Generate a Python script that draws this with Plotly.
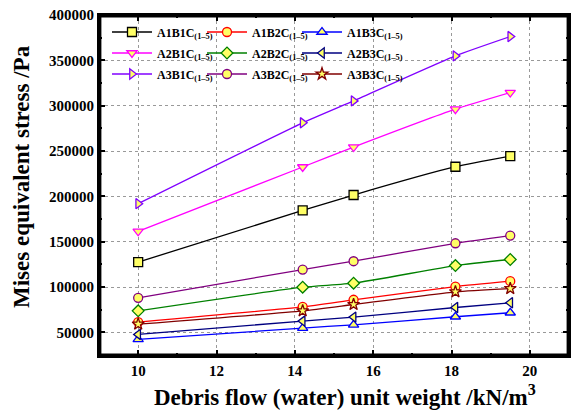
import plotly.graph_objects as go

x_weight = [10, 14.2, 15.5, 18.1, 19.5]

a1b1c = [127500, 184500, 201500, 232700, 244500]
a1b2c = [61400, 78200, 86000, 100600, 106500]
a1b3c = [42300, 54800, 58400, 67300, 71700]
a2b1c = [161500, 232400, 254400, 296200, 314500]
a2b2c = [73800, 99900, 104300, 123700, 130400]
a2b3c = [47800, 62500, 66900, 77500, 82700]
a3b1c = [192000, 281100, 305300, 354900, 376200]
a3b2c = [88200, 119300, 128500, 148300, 156800]
a3b3c = [59100, 73800, 80800, 94800, 98400]

x_range = [9, 21]
y_range = [24000, 400000]

x_title = "Debris flow (water) unit weight /kN/m<sup>3</sup>"
y_title = "Mises equivalent stress /Pa"

def lab(a, b):
    return f'A{a}B{b}C<sub>(1–5)</sub>'

# (label, values, colour, symbol, legend row, legend column)
series = [
    (lab(1, 1), a1b1c, "#000000", "square", 0, 0),
    (lab(1, 2), a1b2c, "#ff0000", "circle", 0, 1),
    (lab(1, 3), a1b3c, "#0000ff", "triangle-up", 0, 2),
    (lab(2, 1), a2b1c, "#ff00ff", "triangle-down", 1, 0),
    (lab(2, 2), a2b2c, "#008000", "diamond", 1, 1),
    (lab(2, 3), a2b3c, "#000080", "triangle-left", 1, 2),
    (lab(3, 1), a3b1c, "#8000ff", "triangle-right", 2, 0),
    (lab(3, 2), a3b2c, "#800080", "circle", 2, 1),
    (lab(3, 3), a3b3c, "#800000", "star", 2, 2),
]

ff = "Liberation Serif"
L, R, T, B = 99, 569, 15, 356
W, H = 573, 410
pw, ph = R - L, B - T

row_y = [32, 53, 74]
col_x = [107, 202, 297]

fig = go.Figure()

legends = {}
for i, (name, ys, col, sym, r, c) in enumerate(series):
    lid = "legend" if i == 0 else f"legend{i + 1}"
    fig.add_trace(go.Scatter(
        x=x_weight, y=ys, name=name, mode="lines+markers",
        line=dict(color=col, width=1.3, shape="spline", smoothing=0.5),
        marker=dict(symbol=sym, size=9, color="#ffff66", line=dict(color=col, width=1.3)),
        legend=lid,
    ))
    legends[lid] = dict(
        orientation="v", xanchor="left", yanchor="middle",
        x=(col_x[c] - L) / pw, y=1 - (row_y[r] - T) / ph,
        bgcolor="rgba(0,0,0,0)", borderwidth=0, itemwidth=40,
        font=dict(family=ff, size=12, color="black", weight="bold"),
    )

tick_font = dict(family=ff, size=15, color="black", weight="bold")
common = dict(
    showline=True, linecolor="#000000", linewidth=2, mirror="ticks",
    ticks="inside", ticklen=6, tickwidth=1.5, tickcolor="#000000",
    showgrid=True, gridcolor="#999999", griddash="dot", gridwidth=1,
    zeroline=False, tickfont=tick_font,
)
xaxis = dict(common, range=x_range, dtick=2, tick0=10,
             minor=dict(dtick=1, ticks="inside", ticklen=3, tickwidth=1.5,
                        tickcolor="#000000", showgrid=False))
yaxis = dict(common, range=y_range, dtick=50000, tick0=0, tickformat="d",
             minor=dict(dtick=25000, ticks="inside", ticklen=3, tickwidth=1.5,
                        tickcolor="#000000", showgrid=False))

# frame drawn just inside the plot-area edge
ix, iy = 1.2 / pw, 1.2 / ph

fig.update_layout(
    width=W, height=H,
    margin=dict(l=L, r=W - R, t=T, b=H - B, autoexpand=False),
    plot_bgcolor="white",
    font=dict(family=ff, color="black"),
    xaxis=xaxis, yaxis=yaxis,
    showlegend=True,
    shapes=[dict(type="rect", xref="paper", yref="paper",
                 x0=ix, x1=1 - ix, y0=iy, y1=1 - iy,
                 line=dict(color="#000000", width=2.4), layer="above")],
    annotations=[
        dict(text=x_title, xref="paper", yref="paper", x=(345 - L) / pw, y=-(396 - B) / ph,
             xanchor="center", yanchor="middle", showarrow=False,
             font=dict(family=ff, size=23, color="black", weight="bold")),
        dict(text=y_title, xref="paper", yref="paper", x=-(L - 21) / pw, y=1 - (177 - T) / ph,
             xanchor="center", yanchor="middle", showarrow=False, textangle=-90,
             font=dict(family=ff, size=23, color="black", weight="bold")),
    ],
    **legends,
)

fig.write_html("out.html", config={"displayModeBar": False},
               post_script="document.body.style.margin='0';")
